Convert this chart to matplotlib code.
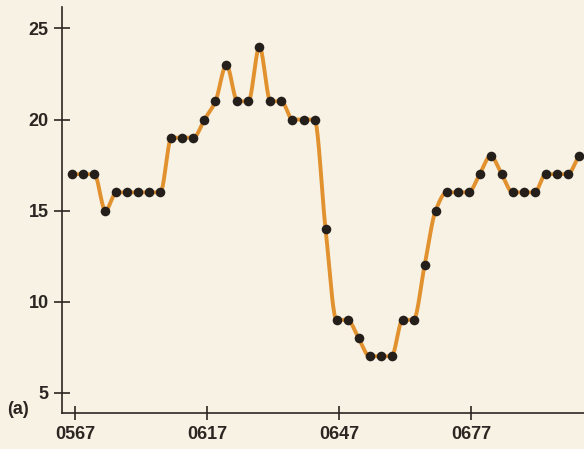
import numpy as np
import matplotlib
matplotlib.use("Agg")
import matplotlib.pyplot as plt

# Readings, one every sample interval
values = [17, 17, 17, 15, 16, 16, 16, 16, 16, 19, 19, 19, 20, 21, 23, 21, 21, 24,
          21, 21, 20, 20, 20, 14, 9, 9, 8, 7, 7, 7, 9, 9, 12, 15, 16, 16, 16, 17,
          18, 17, 16, 16, 16, 17, 17, 17, 18]
tick_labels = ["0567", "0617", "0647", "0677"]
y_ticks = [5, 10, 15, 20, 25]

samples_per_tick = 12
tick_offset = 0.25

BG = "#f7f2e4"
ORANGE = "#e2912f"
DOT = "#251f1c"
INK = "#2b2622"

plt.rcParams["font.family"] = ["Liberation Sans", "DejaVu Sans"]
plt.rcParams["font.weight"] = "bold"


def monotone_curve(x, y, n=20):
    """Fritsch-Carlson monotone cubic through the samples, for a smooth trace."""
    x = np.asarray(x, float)
    y = np.asarray(y, float)
    h = np.diff(x)
    d = np.diff(y) / h
    m = np.zeros_like(y)
    m[0], m[-1] = d[0], d[-1]
    for i in range(1, len(y) - 1):
        if d[i - 1] * d[i] <= 0:
            m[i] = 0.0
        else:
            w1 = 2 * h[i] + h[i - 1]
            w2 = h[i] + 2 * h[i - 1]
            m[i] = (w1 + w2) / (w1 / d[i - 1] + w2 / d[i])
    xs, ys = [], []
    for i in range(len(x) - 1):
        t = np.linspace(0, 1, n, endpoint=False)
        h00 = 2 * t**3 - 3 * t**2 + 1
        h10 = t**3 - 2 * t**2 + t
        h01 = -2 * t**3 + 3 * t**2
        h11 = t**3 - t**2
        xs.append(x[i] + t * h[i])
        ys.append(h00 * y[i] + h10 * h[i] * m[i] + h01 * y[i + 1] + h11 * h[i] * m[i + 1])
    xs.append([x[-1]])
    ys.append([y[-1]])
    return np.concatenate(xs), np.concatenate(ys)


x = np.arange(len(values))
fig = plt.figure(figsize=(5.84, 4.49), dpi=100, facecolor=BG)
ax = fig.add_axes([0.1067, 0.0808, 0.8933, 0.9032])
ax.set_facecolor(BG)

cx, cy = monotone_curve(x, values)
ax.plot(cx, cy, color=ORANGE, lw=2.8, solid_capstyle="round", zorder=2)
ax.scatter(x, values, s=48, color=DOT, zorder=3, linewidths=0)

ax.set_xlim(-0.91, 46.48)
ax.set_ylim(3.9, 26.17)

ax.set_xticks([tick_offset + samples_per_tick * k for k in range(len(tick_labels))])
ax.set_xticklabels(tick_labels)
ax.set_yticks(y_ticks)
ax.set_yticklabels([str(v) for v in y_ticks])

for side in ("top", "right"):
    ax.spines[side].set_visible(False)
for side in ("left", "bottom"):
    ax.spines[side].set_color(INK)
    ax.spines[side].set_linewidth(1.2)

ax.tick_params(axis="y", direction="inout", length=11.5, width=1.2, color=INK,
               labelsize=13, labelcolor=INK, pad=4)
ax.tick_params(axis="x", direction="inout", length=9.5, width=1.2, color=INK,
               labelsize=13, labelcolor=INK, pad=5)

fig.text(0.012, 1 - 410 / 449, "(a)", fontsize=13, fontweight="bold", color=INK,
         ha="left", va="center")

fig.savefig("out.png", dpi=100, facecolor=BG)
